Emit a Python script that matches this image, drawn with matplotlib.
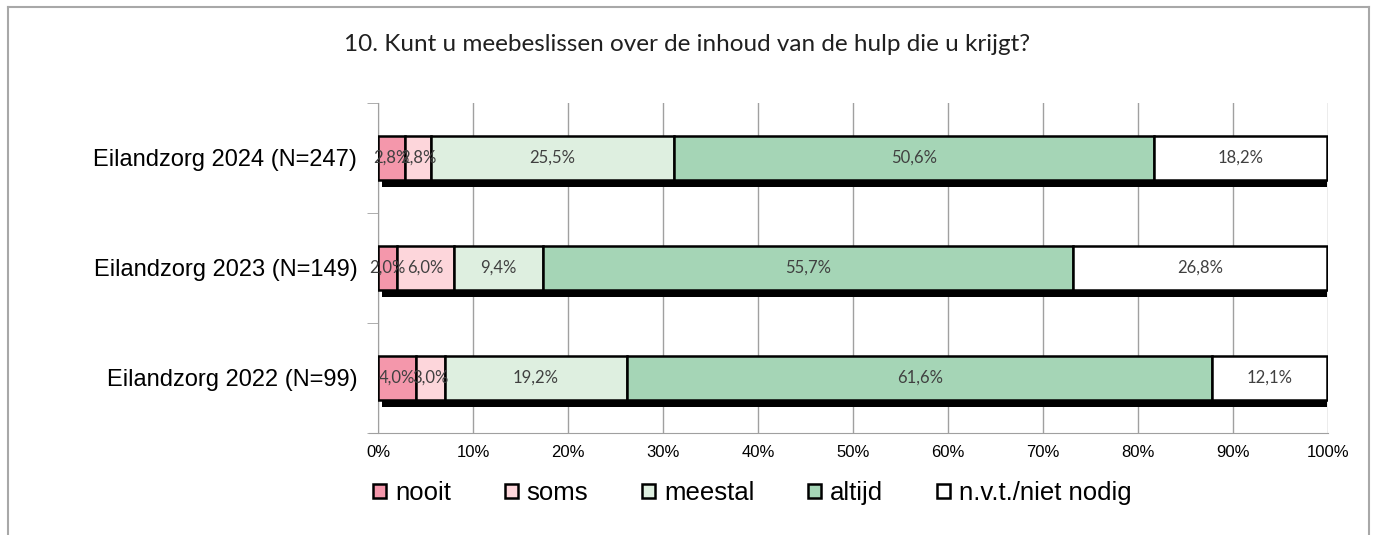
import matplotlib
matplotlib.use("Agg")
import matplotlib.pyplot as plt
from matplotlib.patches import Rectangle
from matplotlib.lines import Line2D
import numpy as np

title = "10. Kunt u meebeslissen over de inhoud van de hulp die u krijgt?"
categories = ["Eilandzorg 2024 (N=247)", "Eilandzorg 2023 (N=149)", "Eilandzorg 2022 (N=99)"]
series_names = ["nooit", "soms", "meestal", "altijd", "n.v.t./niet nodig"]
nooit = [2.8, 2.0, 4.0]
soms = [2.8, 6.0, 3.0]
meestal = [25.5, 9.4, 19.2]
altijd = [50.6, 55.7, 61.6]
nvt = [18.2, 26.8, 12.1]
colors = ["#F497AB", "#FDD6DB", "#DEEFE0", "#A5D5B6", "#FFFFFF"]
xticklabels = ["0%", "10%", "20%", "30%", "40%", "50%", "60%", "70%", "80%", "90%", "100%"]

series = [nooit, soms, meestal, altijd, nvt]

fig = plt.figure(figsize=(13.75, 5.35), dpi=100)
ax = fig.add_axes([0.275, 0.1907, 0.966 - 0.275, 0.8075 - 0.1907])

ypos = np.array([2, 1, 0])
h = 0.4
totals = np.sum(series, axis=0)

# shadows
ax.barh(ypos - 0.06, totals - 0.4, left=0.4, height=h, color="black", zorder=2)

left = np.zeros(3)
for vals, col in zip(series, colors):
    vals = np.array(vals)
    ax.barh(ypos, vals, left=left, height=h, color=col, edgecolor="black",
            linewidth=1.8, zorder=3)
    for y, l, v in zip(ypos, left, vals):
        ax.text(l + v / 2, y, f"{v:.1f}%".replace(".", ","), ha="center", va="center",
                fontsize=12, color="#404040", family="Lato", zorder=4)
    left = left + vals

ax.set_xlim(0, 100)
ax.set_ylim(-0.5, 2.5)
ax.set_xticks(np.arange(0, 101, 10))
ax.set_xticklabels(xticklabels, family="Liberation Sans", fontsize=12)
ax.set_yticks(ypos)
ax.set_yticklabels(categories, family="Liberation Sans", fontsize=17)
ax.set_yticks([-0.5, 0.5, 1.5, 2.5], minor=True)
ax.tick_params(axis="y", which="major", length=0, pad=15)
ax.tick_params(axis="y", which="minor", length=8, color="#A0A0A0")
ax.tick_params(axis="x", length=0, pad=9)
ax.grid(axis="x", color="#A0A0A0", linewidth=1, zorder=0)
ax.set_axisbelow(True)
for s in ["top", "right"]:
    ax.spines[s].set_visible(False)
for s in ["left", "bottom"]:
    ax.spines[s].set_color("#A0A0A0")
ax.spines["bottom"].set_bounds(-1.0, 100)

fig.text(0.5, 0.916, title, ha="center", va="center", fontsize=17.5, family="Lato", color="#202020")

handles = [Rectangle((0, 0), 1, 1, facecolor=c, edgecolor="black", linewidth=1.8) for c in colors]
leg = fig.legend(handles, series_names, loc="center left", bbox_to_anchor=(373 / 1375, 0.0785),
                 ncol=5, frameon=False, prop={"family": "Liberation Sans", "size": 18.5},
                 handlelength=0.5, handleheight=0.5, handletextpad=0.35, columnspacing=2.1,
                 borderpad=0, borderaxespad=0)

# outer frame
frame_col = "#A8A8A8"
fig.add_artist(Line2D([8/1375, 8/1375], [0, 1 - 7/535], transform=fig.transFigure, color=frame_col, lw=1.5))
fig.add_artist(Line2D([8/1375, 1369/1375], [1 - 7/535, 1 - 7/535], transform=fig.transFigure, color=frame_col, lw=1.5))
fig.add_artist(Line2D([1369/1375, 1369/1375], [0, 1 - 7/535], transform=fig.transFigure, color=frame_col, lw=1.5))

fig.savefig("out.png", dpi=100)
